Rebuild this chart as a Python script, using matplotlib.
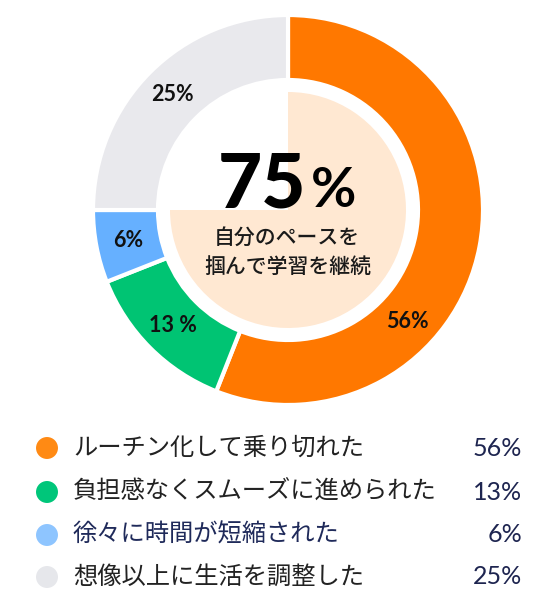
import numpy as np
import matplotlib
matplotlib.use('Agg')
import matplotlib.pyplot as plt

# --- data ---
labels = ['ルーチン化して乗り切れた', '負担感なくスムーズに進められた',
          '徐々に時間が短縮された', '想像以上に生活を調整した']
values = [56, 13, 6, 25]
ring_labels = ['56%', '13 %', '6%', '25%']
legend_pct = ['56%', '13%', '6%', '25%']
center_value = 75
center_text = ['自分のペースを', '掴んで学習を継続']

ring_colors = ['#FF7800', '#00C473', '#66B0FF', '#E9E9ED']
dot_colors = ['#FF8A14', '#00C67A', '#8EC5FF', '#E6E7EB']
label_colors = ['#222222', '#222222', '#1F2A5A', '#222222']
peach = '#FFE8D2'
navy = '#1E2550'

jp = ['Noto Sans CJK JP', 'DejaVu Sans']
num = ['Lato', 'DejaVu Sans']

fig = plt.figure(figsize=(5.6, 6), dpi=100)
ax = fig.add_axes([0, 0, 1, 1])

cx, cy = 288, 390   # donut centre (y up)
R, r_in, r_peach = 195, 130, 118

# outer ring
ax.pie(values, radius=R, center=(cx, cy), startangle=90, counterclock=False,
       colors=ring_colors,
       wedgeprops=dict(width=R - r_in, edgecolor='white', linewidth=3))

# inner peach disc (75% filled)
ax.pie([center_value, 100 - center_value], radius=r_peach, center=(cx, cy),
       startangle=90, counterclock=False, colors=[peach, 'none'],
       wedgeprops=dict(linewidth=0))

# ring labels
cum = np.cumsum([0] + values)
mids = (cum[:-1] + cum[1:]) / 2 / 100 * 360
mids[0] = 133  # orange label sits lower on the ring
lab_r = 163
for ang, t in zip(mids, ring_labels):
    a = np.deg2rad(ang)
    ax.text(cx + lab_r * np.sin(a), cy + lab_r * np.cos(a), t,
            ha='center', va='center', fontsize=15.5, fontweight='bold',
            family=num, color='#111111')

# centre text
ax.text(306, 393, str(center_value), ha='right', va='baseline',
        fontsize=55, fontweight='black', family=num, color='#000000')
ax.text(311, 393, '%', ha='left', va='baseline',
        fontsize=40, fontweight='bold', family=num, color='#000000')
ax.text(287, 362, center_text[0], ha='center', va='center',
        fontsize=15, fontweight='medium', family=jp, color='#1a1a1a')
ax.text(288, 333, center_text[1], ha='center', va='center',
        fontsize=15, fontweight='medium', family=jp, color='#1a1a1a')

# legend
row_y = [152, 108, 65, 23]
ax.scatter([47] * 4, row_y, s=250, c=dot_colors, linewidths=0)
for y, lab, pct, lc in zip(row_y, labels, legend_pct, label_colors):
    ax.text(73, y, lab, ha='left', va='center', fontsize=17.5,
            family=jp, color=lc)
    ax.text(522, y, pct, ha='right', va='center', fontsize=18,
            family=num, color=navy)

ax.set_xlim(0, 560)
ax.set_ylim(0, 600)
ax.set_aspect('equal')
ax.axis('off')

fig.savefig('out.png', dpi=100, facecolor='white')
